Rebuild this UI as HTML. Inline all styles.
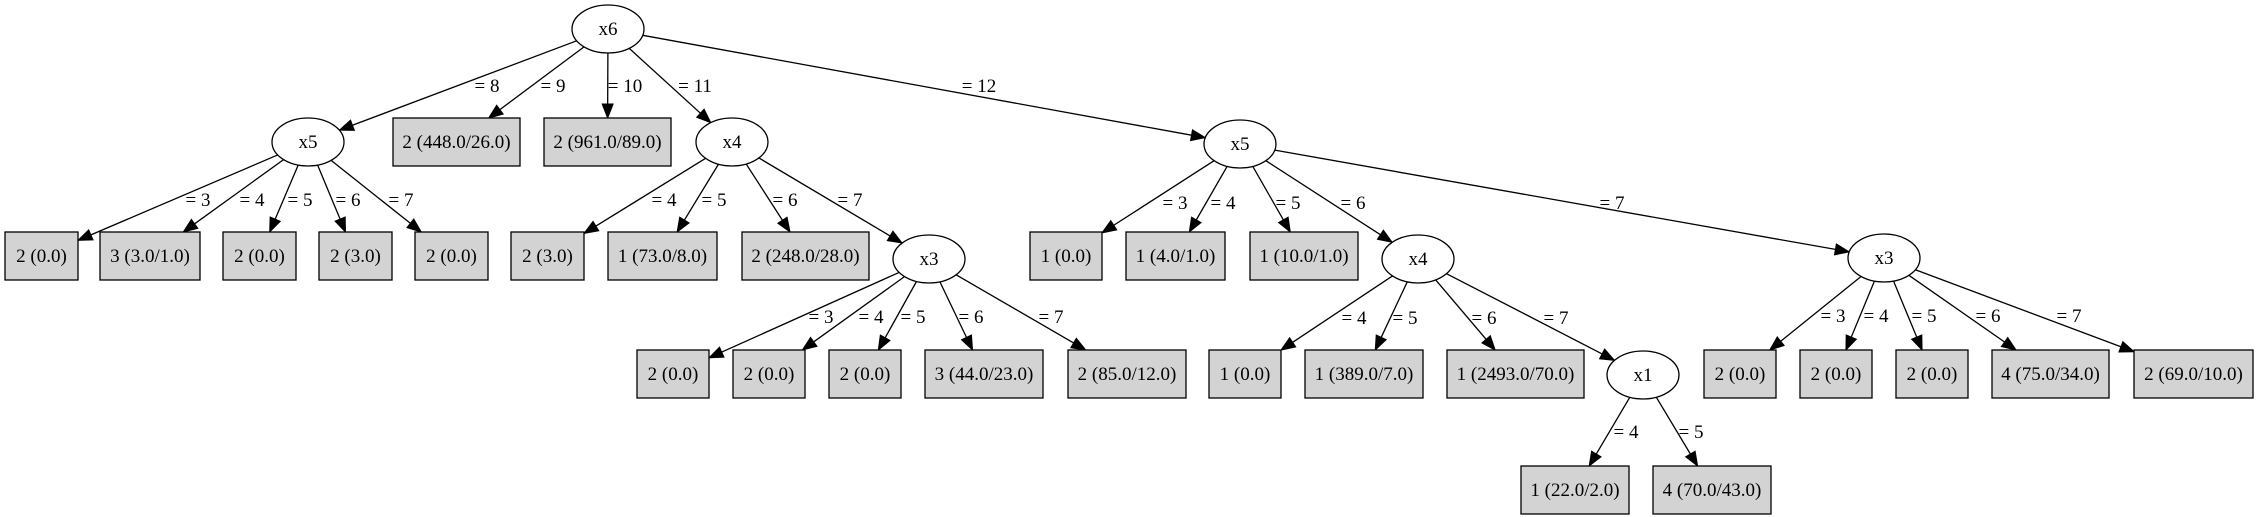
<!DOCTYPE html>
<html><head><meta charset="utf-8"><style>
html,body{margin:0;padding:0;background:#fff;width:2258px;height:517px;overflow:hidden}
svg text{font-family:"Liberation Serif",serif;font-size:19px;fill:#000}
</style></head><body>
<svg id="s" width="2258" height="517" viewBox="0 0 2258 517" xmlns="http://www.w3.org/2000/svg"></svg>
<script>
var N={};
function E(id,x,y,t){N[id]={e:1,x:x,y:y,rx:36,ry:24,t:t};}
function B(id,x1,x2,row,t){var ys={2:118,3:232,4:350,5:466};var y1=ys[row];N[id]={e:0,x:(x1+x2)/2,y:y1+24,x1:x1,x2:x2,y1:y1,y2:y1+48,t:t};}
E('A',608,29,'x6');E('B',308,142,'x5');E('C',732,142,'x4');E('D',1240,144,'x5');
E('E',929,259,'x3');E('F',1418,259,'x4');E('G',1884,258,'x3');E('H',1643,375,'x1');
B('b1',393,520,2,'2 (448.0/26.0)');B('b2',544,671,2,'2 (961.0/89.0)');
B('r1',5,78,3,'2 (0.0)');B('r2',100,200,3,'3 (3.0/1.0)');B('r3',223,296,3,'2 (0.0)');B('r4',319,392,3,'2 (3.0)');B('r5',415,488,3,'2 (0.0)');
B('r6',511,584,3,'2 (3.0)');B('r7',608,717,3,'1 (73.0/8.0)');B('r8',742,869,3,'2 (248.0/28.0)');
B('r9',1030,1102,3,'1 (0.0)');B('r10',1126,1225,3,'1 (4.0/1.0)');B('r11',1250,1358,3,'1 (10.0/1.0)');
B('q1',637,709,4,'2 (0.0)');B('q2',733,805,4,'2 (0.0)');B('q3',829,901,4,'2 (0.0)');B('q4',925,1043,4,'3 (44.0/23.0)');B('q5',1068,1186,4,'2 (85.0/12.0)');
B('q6',1209,1281,4,'1 (0.0)');B('q7',1305,1423,4,'1 (389.0/7.0)');B('q8',1447,1584,4,'1 (2493.0/70.0)');
B('q9',1704,1776,4,'2 (0.0)');B('q10',1800,1872,4,'2 (0.0)');B('q11',1896,1968,4,'2 (0.0)');B('q12',1992,2109,4,'4 (75.0/34.0)');B('q13',2134,2253,4,'2 (69.0/10.0)');
B('p1',1521,1629,5,'1 (22.0/2.0)');B('p2',1653,1771,5,'4 (70.0/43.0)');
var ED=[
['A','B','= 8',487,86],['A','b1','= 9',553,86],['A','b2','= 10',625,86],['A','C','= 11',695,86],['A','D','= 12',979,86],
['B','r1','= 3',198,200],['B','r2','= 4',252,200],['B','r3','= 5',300,200],['B','r4','= 6',348,200],['B','r5','= 7',401,200],
['C','r6','= 4',664,200],['C','r7','= 5',714,200],['C','r8','= 6',785,200],['C','E','= 7',850,200],
['E','q1','= 3',821,317],['E','q2','= 4',871,317],['E','q3','= 5',913,317],['E','q4','= 6',971,317],['E','q5','= 7',1051,317],
['D','r9','= 3',1175,203],['D','r10','= 4',1223,203],['D','r11','= 5',1288,203],['D','F','= 6',1353,203],['D','G','= 7',1612,203],
['F','q6','= 4',1354,318],['F','q7','= 5',1405,318],['F','q8','= 6',1484,318],['F','H','= 7',1556,318],
['G','q9','= 3',1833,316],['G','q10','= 4',1876,316],['G','q11','= 5',1924,316],['G','q12','= 6',1988,316],['G','q13','= 7',2069,316],
['H','p1','= 4',1626,432],['H','p2','= 5',1691,432]];
function clipE(n,dx,dy){var t=1/Math.sqrt(dx*dx/(n.rx*n.rx)+dy*dy/(n.ry*n.ry));return t;}
function clipB(n,dx,dy){var hw=(n.x2-n.x1)/2,hh=24;var t=Math.min(dx?hw/Math.abs(dx):1e9,dy?hh/Math.abs(dy):1e9);return t;}
var h='';
ED.forEach(function(e){var a=N[e[0]],b=N[e[1]];var dx=b.x-a.x,dy=b.y-a.y;var L=Math.sqrt(dx*dx+dy*dy);
var ts=clipE(a,dx,dy);var sx=a.x+dx*ts,sy=a.y+dy*ts;
var te=b.e?clipE(b,-dx,-dy):clipB(b,-dx,-dy);var ex=b.x-dx*te,ey=b.y-dy*te;
var ux=dx/L,uy=dy/L,al=14,aw=5.5;var bx=ex-ux*al,by=ey-uy*al;
h+='<line x1="'+sx+'" y1="'+sy+'" x2="'+bx+'" y2="'+by+'" stroke="#000" stroke-width="1.3"/>';
h+='<polygon points="'+ex+','+ey+' '+(bx-uy*aw)+','+(by+ux*aw)+' '+(bx+uy*aw)+','+(by-ux*aw)+'" fill="#000" stroke="#000"/>';
h+='<text x="'+e[3]+'" y="'+(e[4]+6)+'" text-anchor="middle">'+e[2]+'</text>';});
for(var k in N){var n=N[k];
if(n.e){h+='<ellipse cx="'+n.x+'" cy="'+n.y+'" rx="36" ry="24" fill="#fff" stroke="#000" stroke-width="1.3"/>';}
else{h+='<rect x="'+n.x1+'" y="'+n.y1+'" width="'+(n.x2-n.x1)+'" height="48" fill="#d3d3d3" stroke="#000" stroke-width="1.3"/>';}
h+='<text x="'+n.x+'" y="'+(n.y+6)+'" text-anchor="middle">'+n.t+'</text>';}
document.getElementById('s').innerHTML=h;
</script>
</body></html>
